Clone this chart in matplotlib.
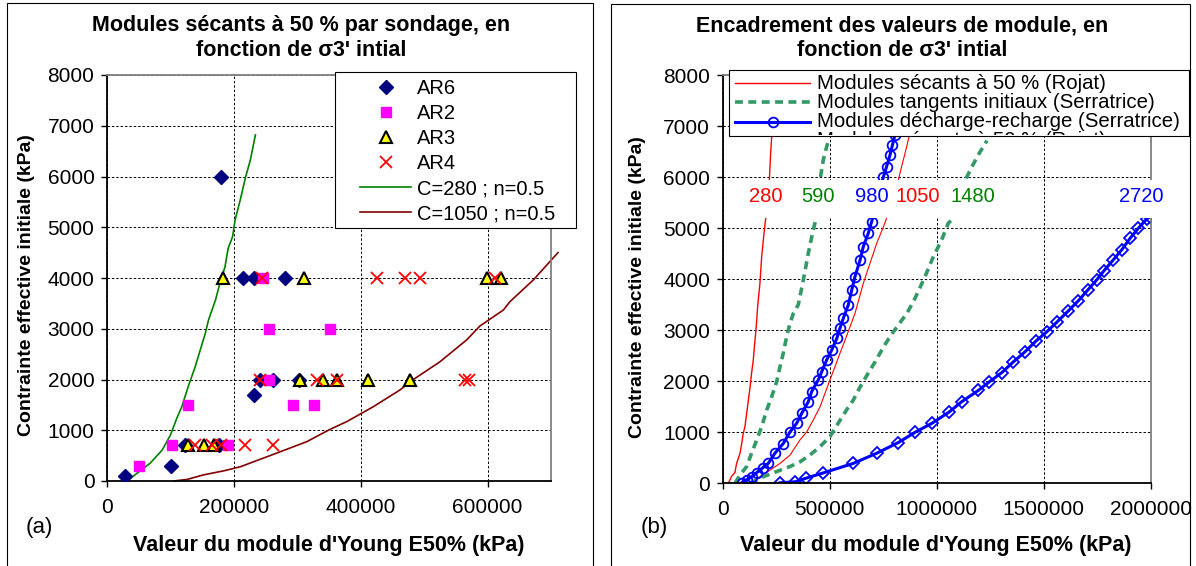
import matplotlib
matplotlib.use('Agg')
import matplotlib.pyplot as plt
from matplotlib.patches import Rectangle
from matplotlib.lines import Line2D
from matplotlib.ticker import FixedLocator, StrMethodFormatter
from matplotlib.transforms import Bbox, TransformedBbox

plt.rcParams['font.family'] = ['Liberation Sans', 'DejaVu Sans']

W, H = 1196, 566

# ---- panneau (a) : points par sondage ----
ar6_x = [28000, 101000, 123000, 176000, 180000, 215000, 232000, 281000, 232000, 242000, 262000, 303000]
ar6_y = [100, 300, 700, 700, 6000, 4000, 4000, 4000, 1700, 2000, 2000, 2000]

ar2_x = [50000, 103000, 127000, 190000, 246000, 256000, 351000, 256000, 294000, 327000]
ar2_y = [300, 700, 1500, 700, 4000, 3000, 3000, 2000, 1500, 1500]

ar3_x = [128000, 153000, 168000, 183000, 310000, 599000, 621000, 304000, 341000, 362000, 411000, 477000]
ar3_y = [700, 700, 700, 4000, 4000, 4000, 4000, 2000, 2000, 2000, 2000, 2000]

ar4_x = [138000, 166000, 179000, 217000, 261000, 244000, 426000, 470000, 494000, 612000,
         242000, 331000, 363000, 565000, 570000]
ar4_y = [700, 700, 700, 700, 700, 4000, 4000, 4000, 4000, 4000, 2000, 2000, 2000, 2000, 2000]

c280_x = [34000, 47000, 68000, 87000, 100000, 110000, 118000, 128000, 139000, 147000, 155000, 160000,
          171000, 178000, 186000, 191000, 198000, 202000, 210000, 218000, 226000, 234000]
c280_y = [20, 150, 350, 610, 905, 1235, 1465, 1860, 2250, 2580, 2910, 3170,
          3565, 3895, 4220, 4585, 4815, 5145, 5535, 5965, 6325, 6820]

c1050_x = [105000, 126000, 152000, 184000, 210000, 257000, 315000, 352000, 378000, 420000, 462000,
           483000, 525000, 567000, 588000, 625000, 635000, 672000, 711000]
c1050_y = [0, 30, 120, 200, 280, 500, 775, 1020, 1170, 1465, 1795,
           2000, 2350, 2780, 3055, 3370, 3530, 3960, 4500]

# ---- panneau (b) : encadrement ----
r280_x = [26000, 42000, 57000, 65000, 81000, 89000, 96000, 104000, 112000, 120000, 128000, 135000,
          143000, 148000, 154000, 159000, 164000, 174000, 182000, 193000, 202000, 218000, 224000, 229000, 232000]
r280_y = [0, 140, 210, 390, 590, 780, 980, 1110, 1370, 1630, 1890, 2160,
          2420, 2680, 2940, 3200, 3500, 3920, 4440, 4900, 5230, 5950, 6470, 6800, 7100]

g590_x = [57000, 81000, 112000, 135000, 159000, 182000, 206000, 229000, 252000, 268000, 283000, 299000,
          315000, 330000, 353000, 377000, 400000, 423000, 439000, 455000, 470000, 495000]
g590_y = [0, 160, 330, 590, 850, 1110, 1440, 1700, 1990, 2290, 2550, 2880,
          3140, 3330, 3500, 3990, 4510, 4970, 5230, 5950, 6340, 6750]

b980_x = [89000, 112000, 136000, 159000, 186000, 213000, 244000, 283000, 315000, 346000, 369000, 400000,
          416000, 447000, 463000, 486000, 509000, 533000, 548000, 564000, 587000, 603000, 618000, 642000,
          657000, 680000, 696000, 751000, 766000, 782000, 793000, 805000]
b980_y = [10, 65, 130, 210, 300, 390, 590, 780, 1010, 1180, 1370, 1600,
          1800, 2030, 2190, 2420, 2610, 2840, 3040, 3240, 3500, 3790, 4050, 4380,
          4640, 4900, 5130, 6010, 6210, 6440, 6630, 6830]

r1050_x = [128000, 174000, 221000, 268000, 315000, 361000, 393000, 423000, 455000, 478000, 501000, 525000,
           548000, 572000, 595000, 618000, 657000, 688000, 720000, 751000, 766000, 821000, 836000, 852000,
           867000, 880000]
r1050_y = [0, 130, 260, 390, 555, 850, 1010, 1240, 1500, 1765, 2025, 2290,
           2550, 2810, 3070, 3330, 3920, 4310, 4710, 5030, 5200, 5950, 6210, 6470,
           6730, 6950]

g1480_x = [128000, 190000, 252000, 315000, 361000, 408000, 455000, 501000, 540000, 579000, 610000, 642000,
           680000, 712000, 743000, 782000, 820000, 860000, 891000, 918000, 945000, 984000, 1023000, 1054000,
           1086000, 1140000, 1170000, 1200000, 1235000]
g1480_y = [0, 130, 230, 330, 420, 555, 720, 915, 1180, 1440, 1630, 1890,
           2160, 2380, 2610, 2880, 3100, 3330, 3560, 3800, 4050, 4440, 4770, 5100,
           5230, 6000, 6250, 6480, 6720]

b2720_x = [268000, 338000, 389000, 467000, 610000, 720000, 821000, 899000, 979000, 1059000, 1117000, 1194000,
           1246000, 1304000, 1358000, 1413000, 1464000, 1514000, 1564000, 1615000, 1662000, 1708000, 1748000,
           1782000, 1825000, 1865000, 1903000, 1942000, 1981000, 1997000]
b2720_y = [10, 30, 100, 200, 390, 590, 800, 1000, 1180, 1400, 1600, 1820,
           1990, 2170, 2380, 2580, 2790, 2970, 3170, 3380, 3580, 3800, 3990,
           4170, 4380, 4580, 4800, 5000, 5180, 5230]

etiquettes = ['280', '590', '980', '1050', '1480', '2720']
etiq_x = [202000, 447000, 697000, 910000, 1171000, 1957000]
etiq_couleurs = ['#FF0000', '#008000', '#0000FF', '#FF0000', '#008000', '#0000FF']
etiq_y = 5630

legende_b = ['Modules sécants à 50 % (Rojat)', 'Modules tangents initiaux (Serratrice)',
             'Modules décharge-recharge (Serratrice)', 'Modules sécants à 50 % (Rojat)']


def fx(px):
    return px / W


def fy(py):
    return 1 - py / H


def style_axes(ax, xticks, xmax):
    ax.set_xlim(0, xmax)
    ax.set_ylim(0, 8000)
    ax.xaxis.set_major_locator(FixedLocator(xticks))
    ax.yaxis.set_major_locator(FixedLocator(range(0, 8001, 1000)))
    ax.xaxis.set_major_formatter(StrMethodFormatter('{x:.0f}'))
    ax.yaxis.set_major_formatter(StrMethodFormatter('{x:.0f}'))
    ax.grid(True, color='black', linestyle=(0, (2.5, 2)), linewidth=0.7)
    for s in ['left', 'bottom']:
        ax.spines[s].set_color('black')
        ax.spines[s].set_linewidth(1.3)
    for s in ['top', 'right']:
        ax.spines[s].set_color('#808080')
        ax.spines[s].set_linewidth(1.3)
    ax.tick_params(axis='both', direction='out', length=4, width=1, labelsize=15)
    ax.tick_params(axis='x', pad=8)
    ax.tick_params(axis='y', pad=5)


fig = plt.figure(figsize=(W / 100, H / 100), dpi=100)

# cadres des deux graphiques
fig.add_artist(Rectangle((fx(6.5), -0.02), fx(593 - 6.5), fy(3) + 0.02, transform=fig.transFigure,
                         fill=False, edgecolor='black', linewidth=0.8, zorder=1))
fig.add_artist(Rectangle((fx(610.5), -0.02), fx(1189.5 - 610.5), fy(3.5) + 0.02, transform=fig.transFigure,
                         fill=False, edgecolor='black', linewidth=0.8, zorder=1))

# ---------------- (a) ----------------
ax1 = fig.add_axes([fx(107), fy(481), fx(551 - 107), (481 - 75) / H])
style_axes(ax1, [0, 200000, 400000, 600000], 700000)

l_c280, = ax1.plot(c280_x, c280_y, color='#008000', linewidth=1.2, zorder=2)
l_c1050, = ax1.plot(c1050_x, c1050_y, color='#800000', linewidth=1.2, zorder=2, clip_on=False)
h6, = ax1.plot(ar6_x, ar6_y, linestyle='none', marker='D', markersize=7, color='#000080', zorder=3)
h2, = ax1.plot(ar2_x, ar2_y, linestyle='none', marker='s', markersize=7.5, color='#FF00FF', zorder=3)
h3, = ax1.plot(ar3_x, ar3_y, linestyle='none', marker='^', markersize=9, markerfacecolor='#FFFF00',
               markeredgecolor='black', markeredgewidth=1.5, zorder=3)
h4, = ax1.plot(ar4_x, ar4_y, linestyle='none', marker='x', markersize=9, markeredgewidth=1.3,
               color='#FF0000', zorder=3)

fig.add_artist(Rectangle((fx(335), fy(228)), fx(576 - 335), (228 - 71.5) / H, transform=fig.transFigure,
                         facecolor='white', edgecolor='black', linewidth=0.8, zorder=3))
fig.legend([h6, h2, h3, h4, l_c280, l_c1050],
           ['AR6', 'AR2', 'AR3', 'AR4', 'C=280 ; n=0.5', 'C=1050 ; n=0.5'],
           loc='upper left', bbox_to_anchor=(fx(360), fy(79)), frameon=False, borderpad=0,
           borderaxespad=0, handlelength=2.55, handletextpad=0.3, labelspacing=0.3,
           fontsize=14.5).set_zorder(5)

fig.text(fx(301), fy(38), "Modules sécants à 50 % par sondage, en\nfonction de σ3' intial",
         ha='center', va='center', fontsize=15.5, fontweight='bold', linespacing=1.2)
fig.text(fx(27), fy(285), 'Contrainte effective initiale (kPa)', rotation=90, ha='center', va='center',
         fontsize=14, fontweight='bold')
fig.text(fx(329), fy(545), "Valeur du module d'Young E50% (kPa)", ha='center', va='center',
         fontsize=15.5, fontweight='bold')
fig.text(fx(39), fy(527), '(a)', ha='center', va='center', fontsize=16)

# ---------------- (b) ----------------
ax2 = fig.add_axes([fx(722.7), fy(483.3), fx(1150.7 - 722.7), (483.3 - 75.3) / H])
style_axes(ax2, [0, 500000, 1000000, 1500000, 2000000], 2000000)

style_r = dict(color='#FF0000', linewidth=1.0)
style_g = dict(color='#339966', linewidth=2.6, linestyle=(0, (2.2, 1.5)))
style_b = dict(color='#0000FF', linewidth=2.2, markerfacecolor='none', markeredgewidth=1.3)

ax2.plot(r280_x, r280_y, zorder=2, **style_r)
ax2.plot(r1050_x, r1050_y, color='#FF0000', linewidth=0.8, zorder=2)
ax2.plot(g590_x, g590_y, zorder=2, **style_g)
ax2.plot(g1480_x, g1480_y, zorder=2, **style_g)
ax2.plot(b980_x, b980_y, marker='o', markersize=7, zorder=2, **style_b)
ax2.plot(b2720_x, b2720_y, marker='D', markersize=6, zorder=2, **style_b)

# bande blanche derriere les etiquettes
ax2.add_patch(Rectangle((20000, 5200), 1310000, 750, facecolor='white', edgecolor='none', zorder=2.6))
ax2.add_patch(Rectangle((1790000, 5200), 300000, 750, facecolor='white', edgecolor='none', zorder=2.6,
                        clip_on=False))
for t, x, c in zip(etiquettes, etiq_x, etiq_couleurs):
    ax2.text(x, etiq_y, t, color=c, ha='center', va='center', fontsize=14.5, zorder=4)

# legende (b) : cadre, echantillons et textes
fig.add_artist(Rectangle((fx(729), fy(136)), fx(1189 - 729), (136 - 70) / H, transform=fig.transFigure,
                         facecolor='white', edgecolor='black', linewidth=0.8, zorder=3))
rangs = [83.3, 102.3, 121.5, 140.7]
styles = [style_r, style_g, style_b]
for i, yy in enumerate(rangs[:3]):
    fig.add_artist(Line2D([fx(735), fx(810)], [fy(yy), fy(yy)], transform=fig.transFigure, zorder=5,
                          **styles[i]))
fig.add_artist(Line2D([fx(772.5)], [fy(rangs[2])], transform=fig.transFigure, zorder=5, marker='o',
                      markersize=7, linestyle='none', **{k: v for k, v in style_b.items() if k != 'linewidth'}))
clip = TransformedBbox(Bbox.from_extents(fx(729), fy(135.3), fx(1189), fy(70)), fig.transFigure)
for lab, yy in zip(legende_b, rangs):
    t = fig.text(fx(817), fy(yy), lab, va='center', fontsize=14.7, zorder=6)
    t.set_clip_box(clip)
    t.set_clip_on(True)

fig.text(fx(902), fy(38), "Encadrement des valeurs de module, en\nfonction de σ3' intial",
         ha='center', va='center', fontsize=15.5, fontweight='bold', linespacing=1.2)
fig.text(fx(638), fy(287), 'Contrainte effective initiale (kPa)', rotation=90, ha='center', va='center',
         fontsize=14, fontweight='bold')
fig.text(fx(936), fy(545), "Valeur du module d'Young E50% (kPa)", ha='center', va='center',
         fontsize=15.5, fontweight='bold')
fig.text(fx(654), fy(528), '(b)', ha='center', va='center', fontsize=16)

fig.savefig('out.png', dpi=100)
